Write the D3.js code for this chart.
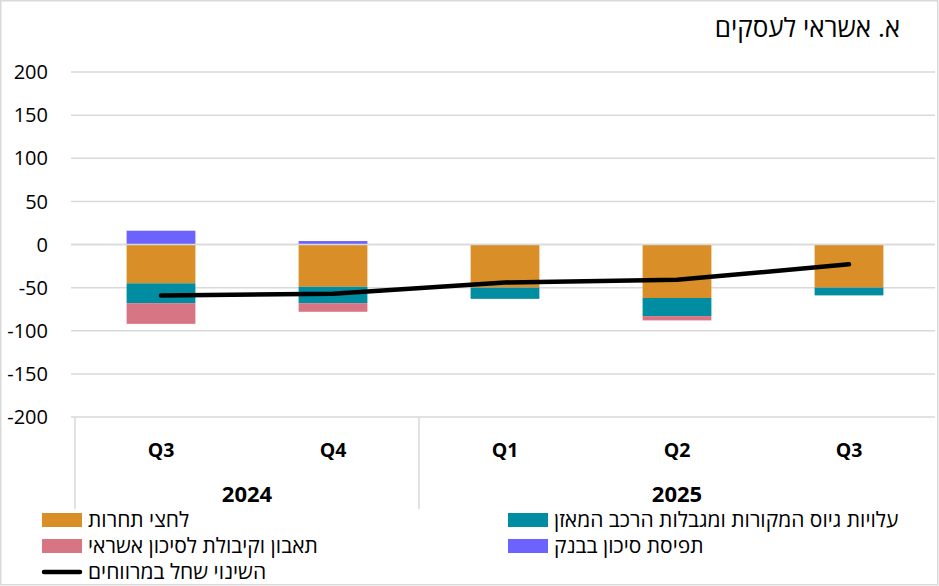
<!DOCTYPE html>
<html>
<meta charset="utf-8">
<script src="https://d3js.org/d3.v7.min.js"></script>
<style>
  body { margin: 0; background: #fff; }
  text { font-family: "Open Sans", "Liberation Sans", "DejaVu Sans", sans-serif; }
</style>
<div id="chart_div"></div>

<script>

// data
var quarters = ["Q3", "Q4", "Q1", "Q2", "Q3"]
var years = [{label: "2024", n: 2}, {label: "2025", n: 3}]
var competition = [-45, -49, -50, -62, -50]
var funding     = [-23, -19, -13, -21, -9]
var appetite    = [-24, -10, 0, -5, 0]
var riskView    = [16, 4, 0, 0, 0]
var spreadChange = [-59, -57, -44, -41, -23]
var yTicks = [-200, -150, -100, -50, 0, 50, 100, 150, 200]

var series = [
  {key: "competition", name: "לחצי תחרות", color: "#d98e27", values: competition},
  {key: "funding", name: "עלויות גיוס המקורות ומגבלות הרכב המאזן", color: "#008ca1", values: funding},
  {key: "appetite", name: "תאבון וקיבולת לסיכון אשראי", color: "#d87584", values: appetite},
  {key: "riskView", name: "תפיסת סיכון בבנק", color: "#6c63ff", values: riskView}
]
var lineName = "השינוי שחל במרווחים"
var title = "א. אשראי לעסקים"

var W = 939, H = 586
var margin = {top: 72, right: 4, bottom: 169, left: 75}
var width = W - margin.left - margin.right,
    height = H - margin.top - margin.bottom

var svg = d3.select("#chart_div")
  .append("svg")
    .attr("width", W)
    .attr("height", H)

svg.append("rect")
  .attr("x", 0.75).attr("y", 0.75)
  .attr("width", 937).attr("height", 584)
  .attr("fill", "#fff")
  .attr("stroke", "#d9d9d9")
  .attr("stroke-width", 1.5)

var g = svg.append("g")
  .attr("transform", "translate(" + margin.left + "," + margin.top + ")")

var idx = d3.range(quarters.length)

var x = d3.scaleBand()
  .domain(idx)
  .range([0, width])
  .paddingInner(0.6)
  .paddingOuter(0.3)

var y = d3.scaleLinear()
  .domain([-200, 200])
  .range([height, 0])

// gridlines
g.selectAll(".grid")
  .data(yTicks)
  .enter().append("line")
    .attr("x1", -4).attr("x2", width)
    .attr("y1", function(d) { return y(d) })
    .attr("y2", function(d) { return y(d) })
    .attr("stroke", "#d9d9d9")
    .attr("stroke-width", 1.5)

// y labels
g.selectAll(".ylab")
  .data(yTicks)
  .enter().append("text")
    .attr("x", -27)
    .attr("y", function(d) { return y(d) })
    .attr("dy", "0.36em")
    .attr("text-anchor", "end")
    .attr("font-size", 20)
    .attr("fill", "#000")
    .text(function(d) { return d })

// stacked bars
var rows = idx.map(function(i) {
  var r = {i: i}
  series.forEach(function(s) { r[s.key] = s.values[i] })
  return r
})
var stack = d3.stack()
  .keys(series.map(function(s) { return s.key }))
  .offset(d3.stackOffsetDiverging)
var stacked = stack(rows)

g.selectAll(".layer")
  .data(stacked)
  .enter().append("g")
    .attr("fill", function(d, k) { return series[k].color })
  .selectAll("rect")
  .data(function(d) { return d })
  .enter().append("rect")
    .attr("x", function(d) { return x(d.data.i) })
    .attr("width", x.bandwidth())
    .attr("y", function(d) { return y(Math.max(d[0], d[1])) })
    .attr("height", function(d) { return Math.abs(y(d[0]) - y(d[1])) })

// zero line on top
g.append("line")
  .attr("x1", -4).attr("x2", width)
  .attr("y1", y(0)).attr("y2", y(0))
  .attr("stroke", "#d9d9d9")
  .attr("stroke-width", 1.5)

// line series
var line = d3.line()
  .x(function(d, i) { return x(i) + x.bandwidth() / 2 })
  .y(function(d) { return y(d) })

g.append("path")
  .datum(spreadChange)
  .attr("d", line)
  .attr("fill", "none")
  .attr("stroke", "#000")
  .attr("stroke-width", 4.5)
  .attr("stroke-linecap", "round")
  .attr("stroke-linejoin", "round")

// category axis
g.selectAll(".qlab")
  .data(idx)
  .enter().append("text")
    .attr("x", function(i) { return x(i) + x.bandwidth() / 2 })
    .attr("y", height + 40)
    .attr("text-anchor", "middle")
    .attr("font-size", 19.5)
    .attr("font-weight", "bold")
    .text(function(i) { return quarters[i] })

var step = x.step()
var start = 0
var seps = [0]
years.forEach(function(yr) {
  g.append("text")
    .attr("x", (start + yr.n / 2) * step)
    .attr("y", height + 85)
    .attr("text-anchor", "middle")
    .attr("font-size", 22)
    .attr("font-weight", "bold")
    .text(yr.label)
  start += yr.n
  seps.push(start)
})
g.selectAll(".sep")
  .data(seps.slice(0, -1))
  .enter().append("line")
    .attr("x1", function(d) { return d * step })
    .attr("x2", function(d) { return d * step })
    .attr("y1", height)
    .attr("y2", height + 92)
    .attr("stroke", "#d9d9d9")
    .attr("stroke-width", 1.5)

// title
svg.append("text")
  .attr("x", 900)
  .attr("y", 37)
  .attr("text-anchor", "end")
  .attr("font-size", 26)
  .text(title)

// legend
var legendItems = [
  {name: series[0].name, color: series[0].color, col: 0, row: 0},
  {name: series[1].name, color: series[1].color, col: 1, row: 0},
  {name: series[2].name, color: series[2].color, col: 0, row: 1},
  {name: series[3].name, color: series[3].color, col: 1, row: 1},
  {name: lineName, color: "#000", col: 0, row: 2, isLine: true}
]
var colX = [42, 508]
var legend = svg.selectAll(".leg")
  .data(legendItems)
  .enter().append("g")
    .attr("transform", function(d) {
      return "translate(" + colX[d.col] + "," + (520 + d.row * 26) + ")"
    })

legend.filter(function(d) { return !d.isLine })
  .append("rect")
    .attr("x", 0).attr("y", -7)
    .attr("width", 40).attr("height", 14)
    .attr("fill", function(d) { return d.color })

legend.filter(function(d) { return d.isLine })
  .append("line")
    .attr("x1", 2).attr("x2", 38)
    .attr("y1", 0).attr("y2", 0)
    .attr("stroke", "#000")
    .attr("stroke-width", 4.5)
    .attr("stroke-linecap", "round")

legend.append("text")
  .attr("x", 46)
  .attr("dy", "0.35em")
  .attr("font-size", 21)
  .text(function(d) { return d.name })

</script>
</html>
